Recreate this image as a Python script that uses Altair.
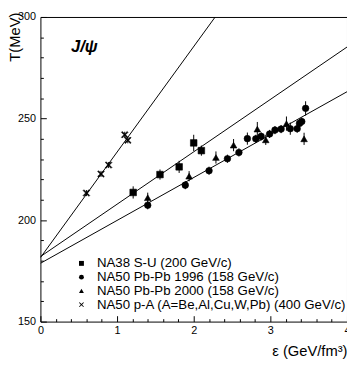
import altair as alt
import pandas as pd

series = [
    "NA38 S-U (200 GeV/c)",
    "NA50 Pb-Pb 1996 (158 GeV/c)",
    "NA50 Pb-Pb 2000 (158 GeV/c)",
    "NA50  p-A (A=Be,Al,Cu,W,Pb) (400 GeV/c)",
]

na38_eps = [1.21, 1.56, 1.81, 2.00, 2.10]
na38_T = [213.6, 222.4, 226.2, 238.0, 234.2]
na38_err = [3.0, 2.5, 3.0, 4.0, 2.5]

pb96_eps = [1.40, 1.89, 2.20, 2.44, 2.59, 2.70, 2.81, 2.88, 2.99, 3.06, 3.14, 3.26, 3.35, 3.38, 3.41, 3.46]
pb96_T = [207.3, 217.2, 224.3, 230.2, 233.3, 240.1, 240.0, 241.2, 242.4, 244.3, 244.8, 245.0, 245.0, 247.6, 248.5, 255.0]
pb96_err = [2.0, 2.0, 2.0, 2.0, 2.0, 3.0, 2.0, 2.0, 2.0, 2.0, 2.0, 3.0, 2.0, 2.0, 2.0, 3.5]

pb00_eps = [1.40, 1.94, 2.29, 2.52, 2.83, 2.94, 3.21, 3.44]
pb00_T = [211.0, 221.6, 230.8, 236.9, 244.8, 239.5, 247.5, 240.0]
pb00_err = [2.5, 2.5, 3.0, 3.0, 3.5, 2.5, 3.5, 3.0]

pa_eps = [0.60, 0.79, 0.89, 1.10, 1.14]
pa_T = [213.3, 222.7, 227.1, 242.0, 239.3]
pa_err = [1.5, 1.5, 1.5, 1.5, 1.5]

# fitted lines (end points)
fit_names = ["p-A", "S-U", "Pb-Pb"]
fit_eps = [[0.0, 2.28], [0.0, 4.0], [0.0, 4.0]]
fit_T = [[181.5, 300.0], [182.0, 285.2], [178.7, 263.2]]

x_major = [0, 1, 2, 3, 4]
x_minor = [0.2, 0.4, 0.6, 0.8, 1.2, 1.4, 1.6, 1.8, 2.2, 2.4, 2.6, 2.8,
           3.2, 3.4, 3.6, 3.8]
y_major = [150, 200, 250, 300]
y_minor = [160, 170, 180, 190, 210, 220, 230, 240, 260, 270, 280, 290]

# filled "x" outline for the p-A marker
cross_path = ("M-1,-0.75L-0.75,-1L0,-0.25L0.75,-1L1,-0.75L0.25,0L1,0.75"
              "L0.75,1L0,0.25L-0.75,1L-1,0.75L-0.25,0Z")
shapes = ["square", "circle", "triangle-up", cross_path]

rows = []
for name, e, t, er in [
    (series[0], na38_eps, na38_T, na38_err),
    (series[1], pb96_eps, pb96_T, pb96_err),
    (series[2], pb00_eps, pb00_T, pb00_err),
    (series[3], pa_eps, pa_T, pa_err),
]:
    for a, b, c in zip(e, t, er):
        rows.append({"series": name, "eps": a, "T": b, "lo": b - c, "hi": b + c})
pts = pd.DataFrame(rows)

lrows = []
for n, e, t in zip(fit_names, fit_eps, fit_T):
    for a, b in zip(e, t):
        lrows.append({"fit": n, "eps": a, "T": b})
lines = pd.DataFrame(lrows)

xscale = alt.Scale(domain=[0, 4], nice=False, zero=False)
yscale = alt.Scale(domain=[150, 300], nice=False, zero=False)

common = dict(domain=False, grid=False, tickColor="black", labelColor="black",
              titleColor="black", labelFontSize=11, labelFlush=False,
              labelOverlap=False)

xaxis = alt.Axis(
    values=x_major, format=".0f", orient="bottom",
    tickSize=alt.ExprRef(expr="-6"),
    labelPadding=9,
    title="ε (GeV/fm³)", titleFontSize=15, titleFontWeight="normal",
    titleX=312, titleY=34, titleAlign="right", titleBaseline="alphabetic",
    **common,
)
yaxis = alt.Axis(
    values=y_major, orient="left",
    tickSize=alt.ExprRef(expr="-6"),
    labelPadding=11,
    title="T(MeV)", titleFontSize=15, titleFontWeight="normal",
    titleX=-18, titleY=-5, titleAngle=-90, titleAlign="right",
    titleBaseline="bottom",
    **common,
)
xaxis_minor = alt.Axis(values=x_minor, labels=False, title=None, orient="bottom",
                       tickSize=alt.ExprRef(expr="-3"), domain=False, grid=False,
                       tickColor="black")
yaxis_minor = alt.Axis(values=y_minor, labels=False, title=None, orient="left",
                       tickSize=alt.ExprRef(expr="-3"), domain=False, grid=False,
                       tickColor="black")

fit_layer = alt.Chart(lines).mark_line(color="black", strokeWidth=1, clip=True).encode(
    x=alt.X("eps:Q", scale=xscale, axis=None),
    y=alt.Y("T:Q", scale=yscale, axis=None),
    detail="fit:N",
)

err_layer = alt.Chart(pts).mark_rule(color="black", strokeWidth=1).encode(
    x=alt.X("eps:Q", scale=xscale, axis=xaxis_minor),
    y=alt.Y("lo:Q", scale=yscale, axis=yaxis_minor),
    y2="hi:Q",
)

pt_layer = alt.Chart(pts).mark_point(
    filled=True, size=45, color="black", strokeWidth=0.6, opacity=1
).encode(
    x=alt.X("eps:Q", scale=xscale, axis=xaxis),
    y=alt.Y("T:Q", scale=yscale, axis=yaxis),
    fill=alt.value("black"),
    stroke=alt.value("black"),
    shape=alt.Shape(
        "series:N",
        scale=alt.Scale(domain=series, range=shapes),
        legend=alt.Legend(
            title=None,
            orient="none",
            legendX=35,
            legendY=244,
            labelFontSize=13.5,
            labelColor="black",
            labelOffset=9,
            symbolSize=25,
            symbolFillColor="black",
            symbolStrokeColor="black",
            symbolStrokeWidth=0,
            rowPadding=-1.5,
            padding=0,
            labelLimit=400,
        ),
    ),
)

chart = alt.layer(fit_layer, err_layer, pt_layer).resolve_axis(
    x="independent", y="independent"
).properties(
    width=312,
    height=310,
    autosize=alt.AutoSizeParams(type="none"),
    padding={"left": 33, "top": 6, "right": 0, "bottom": 40},
    title=alt.TitleParams(
        "J/ψ", anchor="start", frame="group", dx=31, offset=-46, fontSize=17,
        fontWeight="bold", fontStyle="italic", color="black", orient="top",
    ),
).configure(font="Liberation Sans").configure_view(
    stroke="black", strokeWidth=1
)

chart.save("out.html", embed_options={"renderer": "svg", "actions": False})
